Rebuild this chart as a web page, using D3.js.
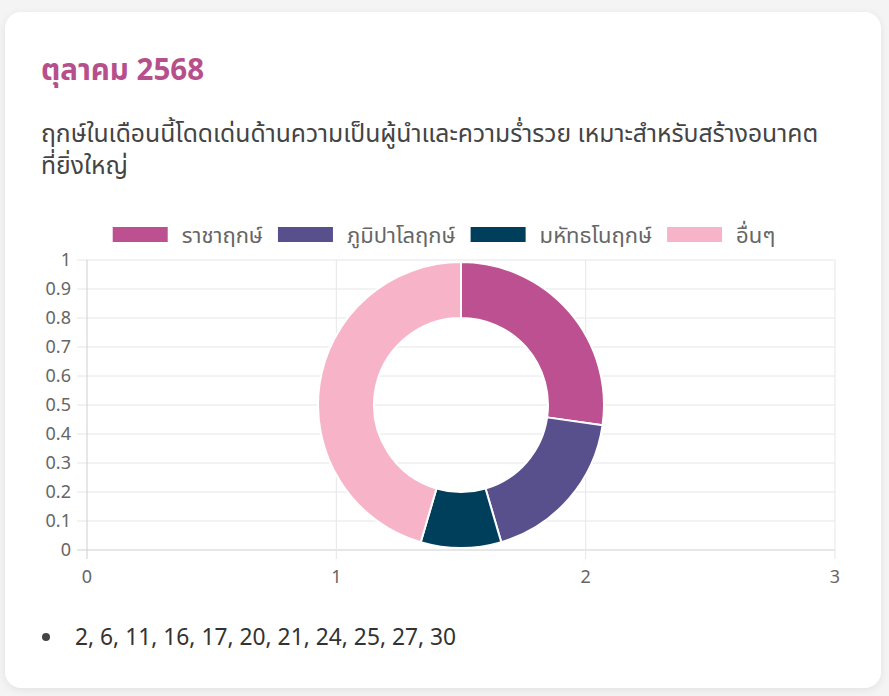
<!DOCTYPE html>
<html lang="th">
<head>
<meta charset="UTF-8">
<title>ตุลาคม 2568</title>
<script src="https://d3js.org/d3.v7.min.js"></script>
<style>
    html, body { margin: 0; padding: 0; background: #f4f4f5; }
    body { width: 889px; height: 696px; overflow: hidden; font-family: "Noto Sans", "Noto Sans Thai", Lato, sans-serif; }
    .card {
        position: absolute; left: 5px; top: 12px; width: 876px; height: 676px;
        background: #fff; border-radius: 16px;
        box-shadow: 0 2px 8px rgba(0,0,0,0.08);
    }
    svg { position: absolute; left: 0; top: 0; }
</style>
</head>
<body>
<div class="card"></div>
<svg width="889" height="696"></svg>
<script>
    // data
    const title = "ตุลาคม 2568";
    const descLines = ["ฤกษ์ในเดือนนี้โดดเด่นด้านความเป็นผู้นำและความร่ำรวย เหมาะสำหรับสร้างอนาคต", "ที่ยิ่งใหญ่"];
    const labels = ["ราชาฤกษ์", "ภูมิปาโลฤกษ์", "มหัทธโนฤกษ์", "อื่นๆ"];
    const values = [3, 2, 1, 5];
    const colors = ["#bc5090", "#58508d", "#003f5c", "#f7b4c9"];
    const yTicks = [0, 0.1, 0.2, 0.3, 0.4, 0.5, 0.6, 0.7, 0.8, 0.9, 1];
    const xTicks = [0, 1, 2, 3];
    const days = [2, 6, 11, 16, 17, 20, 21, 24, 25, 27, 30];

    const svg = d3.select("svg");

    // header text
    svg.append("text")
        .attr("x", 41).attr("y", 80)
        .attr("fill", "#b6508c")
        .attr("font-size", "29.5px").attr("font-weight", "bold")
        .text(title);

    svg.append("g").selectAll("text")
        .data(descLines).enter().append("text")
        .attr("x", 41).attr("y", (d, i) => 142 + i * 32)
        .attr("fill", "#444")
        .attr("font-size", "24.7px")
        .text(d => d);

    // chart area
    const x = d3.scaleLinear().domain([0, 3]).range([87, 835]);
    const y = d3.scaleLinear().domain([0, 1]).range([550, 260]);

    const grid = svg.append("g");
    grid.selectAll(".hg").data(yTicks).enter().append("line")
        .attr("x1", 77).attr("x2", x(3))
        .attr("y1", d => y(d)).attr("y2", d => y(d))
        .attr("stroke", d => d === 0 ? "#cfcfd4" : "#e6e6ea").attr("stroke-width", 1);
    grid.selectAll(".vg").data(xTicks).enter().append("line")
        .attr("x1", d => x(d)).attr("x2", d => x(d))
        .attr("y1", y(1)).attr("y2", y(0) + 9)
        .attr("stroke", d => d === 0 ? "#cfcfd4" : "#e6e6ea").attr("stroke-width", 1);

    svg.append("g").selectAll("text").data(yTicks).enter().append("text")
        .attr("x", 71).attr("y", d => y(d))
        .attr("dy", "0.35em").attr("text-anchor", "end")
        .attr("fill", "#666").attr("font-size", "18px")
        .text(d => d3.format("~g")(d));

    svg.append("g").selectAll("text").data(xTicks).enter().append("text")
        .attr("x", d => x(d)).attr("y", 577)
        .attr("dy", "0.35em").attr("text-anchor", "middle")
        .attr("fill", "#666").attr("font-size", "18px")
        .text(d => d);

    // doughnut
    const cx = (x(0) + x(3)) / 2, cy = (y(0) + y(1)) / 2;
    const pie = d3.pie().sort(null).value(d => d)(values);
    const arc = d3.arc().innerRadius(87).outerRadius(143);
    svg.append("g").attr("transform", `translate(${cx},${cy})`)
        .selectAll("path").data(pie).enter().append("path")
        .attr("d", arc)
        .attr("fill", (d, i) => colors[i])
        .attr("stroke", "#fff").attr("stroke-width", 2).attr("stroke-linejoin", "round");

    // legend, centred on the canvas
    const legend = svg.append("g");
    const items = legend.selectAll("g").data(labels).enter().append("g");
    items.append("rect").attr("width", 55).attr("height", 15).attr("y", -8)
        .attr("fill", (d, i) => colors[i]);
    items.append("text").attr("x", 69).attr("dy", "0.35em")
        .attr("fill", "#666").attr("font-size", "22px")
        .text(d => d);
    let widths = [];
    items.each(function () { widths.push(69 + d3.select(this).select("text").node().getComputedTextLength()); });
    const gap = 15;
    const total = d3.sum(widths) + gap * (widths.length - 1);
    let pos = 444 - total / 2;
    items.attr("transform", (d, i) => {
        const t = `translate(${pos},235)`;
        pos += widths[i] + gap;
        return t;
    });

    // date list
    svg.append("circle").attr("cx", 46).attr("cy", 637).attr("r", 4).attr("fill", "#444");
    svg.append("text").attr("x", 75).attr("y", 637).attr("dy", "0.35em")
        .attr("fill", "#333").attr("font-size", "22.8px")
        .text(days.join(", "));
</script>
</body>
</html>
